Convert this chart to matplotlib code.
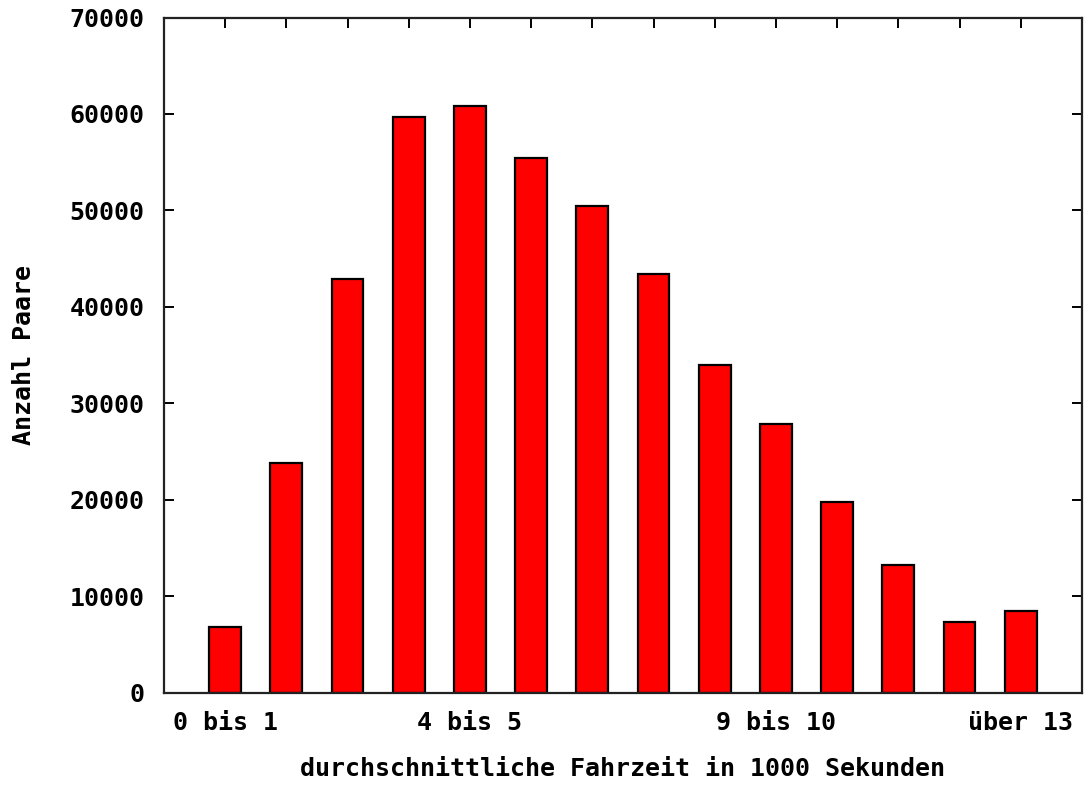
import matplotlib.pyplot as plt

# Anzahl Paare je Fahrzeitklasse (in 1000 Sekunden)
klassen = list(range(1, 15))
anzahl = [6800, 23800, 42900, 59700, 60800, 55400, 50500,
          43400, 34000, 27800, 19800, 13200, 7300, 8500]
beschriftung = {1: '0 bis 1', 5: '4 bis 5', 10: '9 bis 10', 14: 'über 13'}

plt.rcParams['font.family'] = ['DejaVu Sans Mono']
plt.rcParams['font.weight'] = 'bold'
plt.rcParams['axes.labelweight'] = 'bold'

fig = plt.figure(figsize=(10.86, 7.85), dpi=100)
ax = fig.add_axes([0.151, 0.1178, 0.8453, 0.8599])

ax.bar(klassen, anzahl, width=0.52, color='#ff0000',
       edgecolor='black', linewidth=1.6, zorder=2)

ax.set_xlim(0, 15)
ax.set_ylim(0, 70000)
ax.set_yticks(range(0, 70001, 10000))

# Striche oben an jeder Klasse, Beschriftung unten nur an einigen
ax.set_xticks(klassen)
ax.set_xticklabels([beschriftung.get(k, '') for k in klassen])
ax.tick_params(axis='x', bottom=False, top=True, direction='in',
               length=7, width=1.4, labelsize=18, pad=13)
ax.tick_params(axis='y', left=True, right=True, direction='in',
               length=7, width=1.4, labelsize=18, pad=14)

for s in ax.spines.values():
    s.set_linewidth(1.6)
    s.set_color('#222222')

ax.set_xlabel('durchschnittliche Fahrzeit in 1000 Sekunden',
              fontsize=18, labelpad=16)
ax.set_ylabel('Anzahl Paare', fontsize=18, labelpad=24)

fig.savefig('out.png', dpi=100)
